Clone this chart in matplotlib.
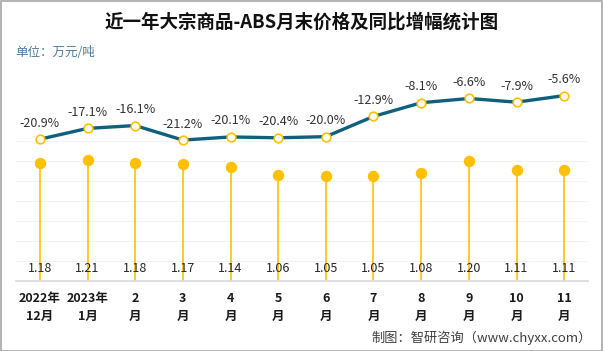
import matplotlib
matplotlib.use("Agg")
import matplotlib.pyplot as plt
from matplotlib.patches import Rectangle

plt.rcParams['font.family'] = ['Noto Sans CJK SC', 'DejaVu Sans']

categories = ["2022年\n12月", "2023年\n1月", "2\n月", "3\n月", "4\n月", "5\n月",
              "6\n月", "7\n月", "8\n月", "9\n月", "10\n月", "11\n月"]
price = [1.18, 1.21, 1.18, 1.17, 1.14, 1.06, 1.05, 1.05, 1.08, 1.20, 1.11, 1.11]
yoy = [-20.9, -17.1, -16.1, -21.2, -20.1, -20.4, -20.0, -12.9, -8.1, -6.6, -7.9, -5.6]
grid_vals = [0.2, 0.4, 0.6, 0.8, 1.0, 1.2, 1.4]

GOLD = "#FFC000"
TEAL = "#0F5F7E"

W, H = 603, 351
fig = plt.figure(figsize=(W / 100, H / 100), dpi=100)
ax = fig.add_axes([16 / W, (H - 281) / H, (588 - 16) / W, (281 - 80) / H])
ax.set_facecolor("none")

x = list(range(len(categories)))
ax.set_xlim(-0.5, len(categories) - 0.5)
ax.set_ylim(0, 2.01)
for g in grid_vals:
    ax.axhline(g, color="#F2F2F2", lw=0.8, zorder=0)

# lollipops
ax.vlines(x, 0, price, color=GOLD, lw=1.2, zorder=2)
ax.plot(x, price, "o", color=GOLD, ms=7.2, zorder=3, linestyle="none")
for xi, v in zip(x, price):
    ax.text(xi, 0.12, f"{v:.2f}", ha="center", va="center", fontsize=9,
            color="#262626", zorder=4)

for s in ["top", "left", "right"]:
    ax.spines[s].set_visible(False)
ax.spines["bottom"].set_color("#D9D9D9")
ax.spines["bottom"].set_linewidth(1.2)
ax.set_yticks([])
ax.set_xticks(x)
ax.set_xticklabels(categories, fontsize=9, fontweight="bold", color="#1a1a1a",
                   linespacing=1.5)
ax.tick_params(axis="x", length=0, pad=8)

ax2 = ax.twinx()
ax2.set_ylim(-70.65, -0.12)
ax2.plot(x, yoy, color=TEAL, lw=2.4, zorder=5)
ax2.plot(x, yoy, "o", mfc="white", mec=GOLD, mew=1.2, ms=6.2, zorder=6,
         linestyle="none")
for xi, v in zip(x, yoy):
    ax2.annotate(f"{v:.1f}%", (xi, v), xytext=(0, 16), textcoords="offset pixels",
                 ha="center", va="center", fontsize=9, color="#333333")
ax2.set_yticks([])
for s in ["top", "left", "right", "bottom"]:
    ax2.spines[s].set_visible(False)

fig.text(301.5 / W, 1 - 22 / H, "近一年大宗商品-ABS月末价格及同比增幅统计图",
         ha="center", va="center", fontsize=13.3, fontweight="bold", color="#111111")
fig.text(15 / W, 1 - 53 / H, "单位：万元/吨", ha="left", va="center",
         fontsize=9, color="#4A7BA0")
fig.text(592 / W, 1 - 338 / H, "制图：智研咨询（www.chyxx.com）", ha="right",
         va="center", fontsize=9.5, color="#404040")

fig.patches.append(Rectangle((0.5 / W, 0.5 / H), (W - 1.5) / W, (H - 1.5) / H,
                             transform=fig.transFigure, fill=False,
                             edgecolor="#A6A6A6", lw=1.2))

fig.savefig("out.png", dpi=100)
